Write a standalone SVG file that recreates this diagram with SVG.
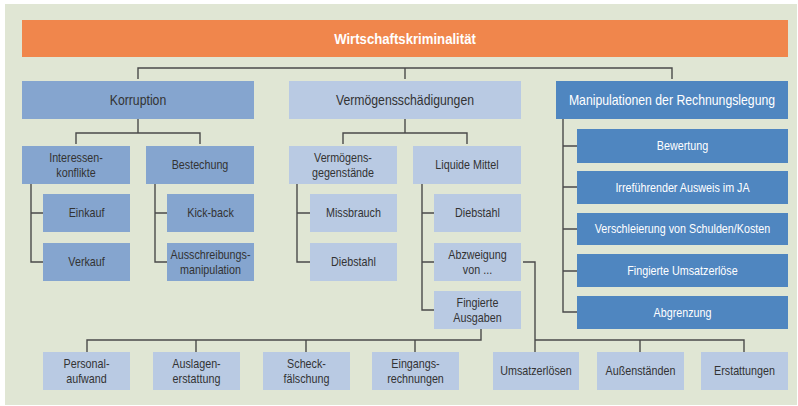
<svg xmlns="http://www.w3.org/2000/svg" width="798" height="406" viewBox="0 0 798 406">
<style>
.t{font-family:"Liberation Sans",Arial,sans-serif;font-size:12.5px;fill:#333;text-anchor:middle;transform-box:fill-box;transform-origin:50% 50%;transform:scaleX(.86)}
.w{fill:#fff}
.l1{font-size:14px;transform:scaleX(.875)}
.b{font-weight:bold;transform:scaleX(.94)}
.dk{fill:#4f86c0}
.md{fill:#85a5cf}
.lt{fill:#b9cae3}
.c path{fill:none;stroke:#4a4a4a;stroke-width:1.4}
</style>
<rect x="5" y="4" width="792" height="401" fill="#e0e6d4"/>
<g class="c" id="connectors">
<path d="M138 79V68H672V79M405 68V79"/>
<path d="M138 119V133M76 144V133H200V144"/>
<path d="M31 184V262H43M31 213H43"/>
<path d="M155 184V262H167M155 213H167"/>
<path d="M405 119V133M343 144V133H467V144"/>
<path d="M297 184V262H310M297 213H310"/>
<path d="M422 184V310H434M422 213H434M422 262H434"/>
<path d="M523 262H535V352M535 340H744V352M640 340V352"/>
<path d="M481 329V340H87V352M196 340V352M306 340V352M415 340V352"/>
<path d="M563 119V312H577M563 146H577M563 187H577M563 229H577M563 271H577"/>
</g>
<g id="n-root"><rect x="22" y="20" width="766" height="37" fill="#f0864c"/><text class="t w l1 b" x="405" y="44">Wirtschaftskriminalität</text></g>
<g id="n-korruption"><rect class="md" x="22" y="81" width="232" height="38"/><text class="t l1" x="138" y="105">Korruption</text></g>
<g id="n-vermoegen"><rect class="lt" x="289" y="81" width="232" height="38"/><text class="t l1" x="405" y="105">Vermögensschädigungen</text></g>
<g id="n-manip"><rect class="dk" x="556" y="81" width="232" height="38"/><text class="t w l1" x="672" y="105">Manipulationen der Rechnungslegung</text></g>
<g id="n-interessen"><rect class="md" x="22" y="146" width="108" height="38"/><text class="t" x="76" y="162">Interessen-</text><text class="t" x="76" y="177">konflikte</text></g>
<g id="n-bestechung"><rect class="md" x="146" y="146" width="108" height="38"/><text class="t" x="200" y="169">Bestechung</text></g>
<g id="n-einkauf"><rect class="md" x="43" y="194" width="87" height="38"/><text class="t" x="86.5" y="217">Einkauf</text></g>
<g id="n-verkauf"><rect class="md" x="43" y="243" width="87" height="38"/><text class="t" x="86.5" y="266">Verkauf</text></g>
<g id="n-kickback"><rect class="md" x="167" y="194" width="87" height="38"/><text class="t" x="210.5" y="217">Kick-back</text></g>
<g id="n-ausschreibung"><rect class="md" x="167" y="243" width="87" height="38"/><text class="t" x="210.5" y="259">Ausschreibungs-</text><text class="t" x="210.5" y="274">manipulation</text></g>
<g id="n-vermgeg"><rect class="lt" x="289" y="146" width="108" height="38"/><text class="t" x="343" y="162">Vermögens-</text><text class="t" x="343" y="177">gegenstände</text></g>
<g id="n-liquide"><rect class="lt" x="413" y="146" width="108" height="38"/><text class="t" x="467" y="169">Liquide Mittel</text></g>
<g id="n-missbrauch"><rect class="lt" x="310" y="194" width="87" height="38"/><text class="t" x="353.5" y="217">Missbrauch</text></g>
<g id="n-diebstahl1"><rect class="lt" x="310" y="243" width="87" height="38"/><text class="t" x="353.5" y="266">Diebstahl</text></g>
<g id="n-diebstahl2"><rect class="lt" x="434" y="194" width="87" height="38"/><text class="t" x="477.5" y="217">Diebstahl</text></g>
<g id="n-abzweigung"><rect class="lt" x="434" y="243" width="87" height="38"/><text class="t" x="477.5" y="259">Abzweigung</text><text class="t" x="477.5" y="274">von ...</text></g>
<g id="n-fingaus"><rect class="lt" x="434" y="291" width="87" height="38"/><text class="t" x="477.5" y="307">Fingierte</text><text class="t" x="477.5" y="322">Ausgaben</text></g>
<g id="n-personal"><rect class="lt" x="43" y="352" width="87" height="38"/><text class="t" x="86.5" y="368">Personal-</text><text class="t" x="86.5" y="383">aufwand</text></g>
<g id="n-auslagen"><rect class="lt" x="153" y="352" width="87" height="38"/><text class="t" x="196.5" y="368">Auslagen-</text><text class="t" x="196.5" y="383">erstattung</text></g>
<g id="n-scheck"><rect class="lt" x="263" y="352" width="87" height="38"/><text class="t" x="306.5" y="368">Scheck-</text><text class="t" x="306.5" y="383">fälschung</text></g>
<g id="n-eingang"><rect class="lt" x="372" y="352" width="87" height="38"/><text class="t" x="415.5" y="368">Eingangs-</text><text class="t" x="415.5" y="383">rechnungen</text></g>
<g id="n-umsatz"><rect class="lt" x="493" y="352" width="86" height="38"/><text class="t" x="536" y="375">Umsatzerlösen</text></g>
<g id="n-aussen"><rect class="lt" x="597" y="352" width="87" height="38"/><text class="t" x="640.5" y="375">Außenständen</text></g>
<g id="n-erstatt"><rect class="lt" x="701" y="352" width="87" height="38"/><text class="t" x="744.5" y="375">Erstattungen</text></g>
<g id="n-bewertung"><rect class="dk" x="577" y="129" width="211" height="34"/><text class="t w" x="682.5" y="150">Bewertung</text></g>
<g id="n-irre"><rect class="dk" x="577" y="171" width="211" height="33"/><text class="t w" x="682.5" y="192">Irreführender Ausweis im JA</text></g>
<g id="n-verschl"><rect class="dk" x="577" y="213" width="211" height="32"/><text class="t w" x="682.5" y="233">Verschleierung von Schulden/Kosten</text></g>
<g id="n-fingums"><rect class="dk" x="577" y="254" width="211" height="33"/><text class="t w" x="682.5" y="275">Fingierte Umsatzerlöse</text></g>
<g id="n-abgrenz"><rect class="dk" x="577" y="296" width="211" height="33"/><text class="t w" x="682.5" y="317">Abgrenzung</text></g>
</svg>
